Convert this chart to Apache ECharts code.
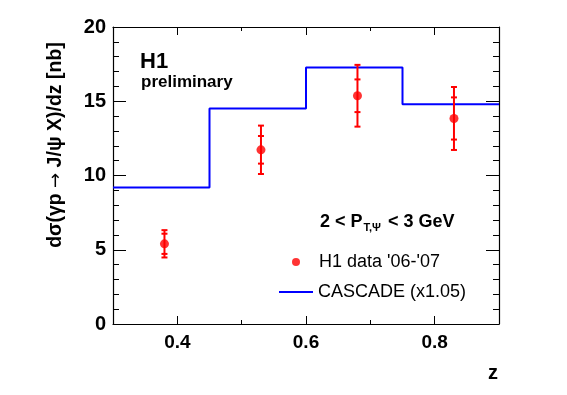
<!DOCTYPE html>
<html>
<head>
<meta charset="utf-8">
<script src="https://cdn.jsdelivr.net/npm/echarts@6/dist/echarts.min.js"></script>
<style>
html,body{margin:0;padding:0;background:#fff;}
#c{width:567px;height:395px;}
</style>
</head>
<body>
<div id="c"></div>
<script>
// H1 data points
const zData = [0.38, 0.53, 0.68, 0.83];
const xsData = [5.40, 11.73, 15.37, 13.84];
const statErr = [0.68, 0.93, 1.10, 1.42];
const totErr = [0.92, 1.63, 2.08, 2.12];
// CASCADE (x1.05) histogram
const binEdges = [0.3, 0.45, 0.6, 0.75, 0.9];
const cascade = [9.19, 14.52, 17.28, 14.80];
// ticks
const xMajor = [0.4, 0.6, 0.8];
const xMinor = [0.5, 0.7];

const FONT = '"Liberation Sans", Arial, Helvetica, sans-serif';
const chart = echarts.init(document.getElementById('c'), null, {renderer: 'canvas'});

const histData = binEdges.map((e, i) => [e, cascade[Math.min(i, cascade.length - 1)]]);
const pointData = zData.map((z, i) => [z, xsData[i]]);
const errData = zData.map((z, i) => [z, xsData[i], statErr[i], totErr[i]]);

function xAxisDef(pos, ticks, len, labels, line) {
  return {
    type: 'value', position: pos, min: 0.3, max: 0.9,
    axisLine: {show: line, onZero: false, lineStyle: {color: '#000', width: 1.2}},
    axisTick: {show: true, inside: true, length: len, customValues: ticks, lineStyle: {color: '#000', width: 1}},
    axisLabel: labels ? {show: true, customValues: ticks, formatter: v => v.toFixed(1), color: '#000',
      fontFamily: FONT, fontWeight: 'bold', fontSize: 19, margin: 9} : {show: false},
    splitLine: {show: false}
  };
}
function yAxisDef(pos, labels) {
  return {
    type: 'value', position: pos, min: 0, max: 20, interval: 5,
    axisLine: {show: true, onZero: false, lineStyle: {color: '#000', width: 1.2}},
    axisTick: {show: true, inside: true, length: 13, lineStyle: {color: '#000', width: 1}},
    minorTick: {show: true, splitNumber: 5, length: 6, lineStyle: {color: '#000', width: 1}},
    axisLabel: labels ? {show: true, color: '#000', fontFamily: FONT, fontWeight: 'bold', fontSize: 20, margin: 7} : {show: false},
    splitLine: {show: false}, minorSplitLine: {show: false}
  };
}

const tf = {fontFamily: FONT, fontWeight: 'bold', fontSize: 19.5, fill: '#000', color: '#000'};

const option = {
  backgroundColor: '#fff',
  animation: false,
  grid: {left: 113, top: 27, width: 386, height: 297, containLabel: false},
  xAxis: [
    xAxisDef('bottom', xMajor, 8, true, true),
    xAxisDef('bottom', xMinor, 4, false, false),
    xAxisDef('top', xMajor, 8, false, true),
    xAxisDef('top', xMinor, 4, false, false)
  ],
  yAxis: [yAxisDef('left', true), yAxisDef('right', false)],
  legend: [
    {left: 292, top: 253, padding: 0, itemWidth: 8, itemHeight: 8, selectedMode: false,
     textStyle: {fontFamily: FONT, fontSize: 18, color: '#000', padding: [0, 0, 0, 14]},
     data: [{name: "H1 data '06-'07", icon: 'circle'}]},
    {left: 279, top: 283, padding: 0, itemWidth: 34, itemHeight: 8, selectedMode: false,
     textStyle: {fontFamily: FONT, fontSize: 18, color: '#000'},
     data: [{name: 'CASCADE (x1.05)', icon: 'path://M0,0L34,0L34,2L0,2Z'}]}
  ],
  series: [
    {
      name: 'CASCADE (x1.05)', type: 'line', step: 'end', data: histData,
      xAxisIndex: 0, yAxisIndex: 0, showSymbol: false, symbol: 'none',
      lineStyle: {color: '#0000ff', width: 2}, itemStyle: {color: '#0000ff'}, z: 2
    },
    {
      name: 'errors', type: 'custom', data: errData, xAxisIndex: 0, yAxisIndex: 0, z: 3,
      renderItem: function (params, api) {
        const x = api.value(0), y = api.value(1), s = api.value(2), t = api.value(3);
        const pTh = api.coord([x, y + t]), pTl = api.coord([x, y - t]);
        const pSh = api.coord([x, y + s]), pSl = api.coord([x, y - s]);
        const w = 3;
        const st = {stroke: '#ff0000', lineWidth: 2};
        const mk = (x1, y1, x2, y2) => ({type: 'line', shape: {x1, y1, x2, y2}, style: st});
        return {type: 'group', children: [
          mk(pTh[0], pTh[1], pTl[0], pTl[1]),
          mk(pTh[0] - w, pTh[1], pTh[0] + w, pTh[1]),
          mk(pTl[0] - w, pTl[1], pTl[0] + w, pTl[1]),
          mk(pSh[0] - w, pSh[1], pSh[0] + w, pSh[1]),
          mk(pSl[0] - w, pSl[1], pSl[0] + w, pSl[1])
        ]};
      }
    },
    {
      name: "H1 data '06-'07", type: 'scatter', data: pointData, xAxisIndex: 0, yAxisIndex: 0,
      symbol: 'circle', symbolSize: 9, itemStyle: {color: '#ff0000'}, z: 4
    }
  ],
  graphic: [
    {type: 'text', left: 140, top: 51, style: {text: 'H1', fontFamily: FONT, fontWeight: 'bold', fontSize: 22, fill: '#000'}},
    {type: 'text', left: 141, top: 74, style: {text: 'preliminary', fontFamily: FONT, fontWeight: 'bold', fontSize: 17, fill: '#000'}},
    {type: 'text', left: 320, top: 213, style: {
      text: '{m|2 < P}{s|T,Ψ}{m| < 3 GeV}',
      rich: {
        m: {fontFamily: FONT, fontWeight: 'bold', fontSize: 18, fill: '#000', color: '#000'},
        s: {fontFamily: FONT, fontWeight: 'bold', fontSize: 11, fill: '#000', color: '#000', padding: [11, 2, 0, 1]}
      }}},
    {type: 'text', x: 56, y: 145, rotation: Math.PI / 2, style: {
      text: '{t|dσ(γp }{a|→}{t| J/ψ X)/dz [nb]}',
      align: 'center', verticalAlign: 'middle',
      rich: {
        t: tf,
        a: {fontFamily: '"DejaVu Sans", sans-serif', fontSize: 18, fill: '#000', color: '#000'}
      }}},
    {type: 'text', x: 498, y: 373, style: {text: 'z', fontFamily: FONT, fontWeight: 'bold', fontSize: 20, fill: '#000',
      align: 'right', verticalAlign: 'middle'}}
  ]
};
chart.setOption(option);
</script>
</body>
</html>
